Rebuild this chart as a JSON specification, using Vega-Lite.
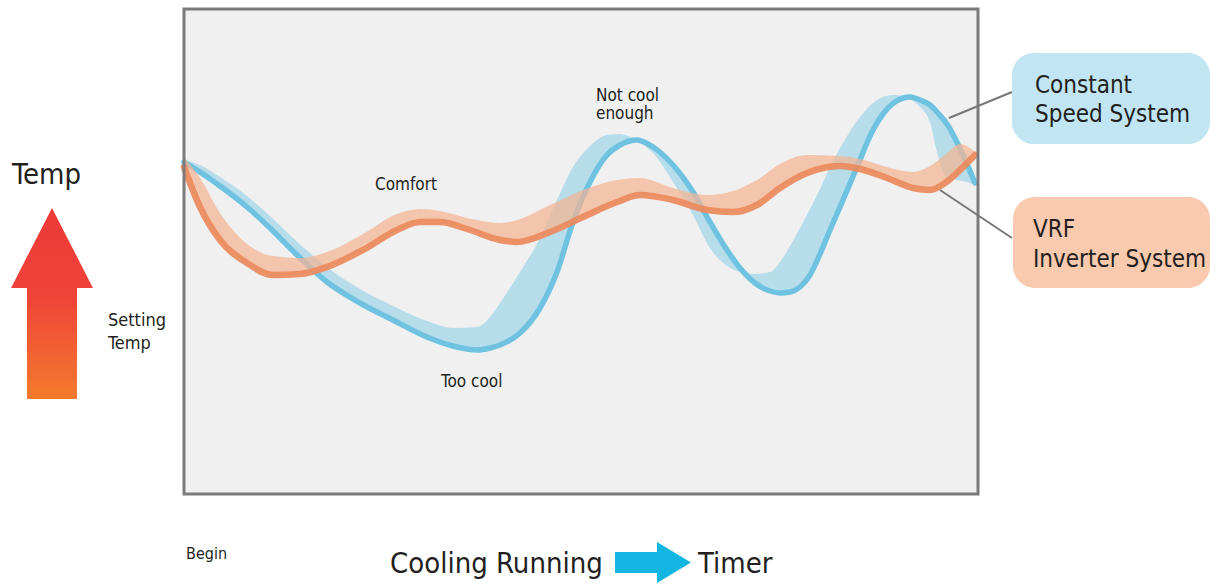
{
  "$schema": "https://vega.github.io/schema/vega-lite/v6.json",
  "width": 1210,
  "height": 584,
  "padding": 0,
  "autosize": {"type": "none"},
  "background": "#ffffff",
  "config": {"view": {"stroke": null}, "font": "DejaVu Sans Condensed, Roboto, sans-serif"},
  "datasets": {
    "box": [{"x": 184, "x2": 978, "y": 9, "y2": 494}],
    "blue": [
      {"x": 184, "yd": 162, "yl": 160},
      {"x": 200, "yd": 172, "yl": 165},
      {"x": 220, "yd": 186, "yl": 177},
      {"x": 247, "yd": 207, "yl": 196},
      {"x": 270, "yd": 228, "yl": 216},
      {"x": 293, "yd": 251, "yl": 238},
      {"x": 327, "yd": 282, "yl": 267},
      {"x": 360, "yd": 303, "yl": 289},
      {"x": 393, "yd": 320, "yl": 306},
      {"x": 427, "yd": 337, "yl": 321},
      {"x": 453, "yd": 346, "yl": 328},
      {"x": 477, "yd": 350, "yl": 327},
      {"x": 490, "yd": 348, "yl": 317},
      {"x": 500, "yd": 345, "yl": 303},
      {"x": 520, "yd": 333, "yl": 272},
      {"x": 540, "yd": 308, "yl": 238},
      {"x": 557, "yd": 272, "yl": 200},
      {"x": 573, "yd": 222, "yl": 167},
      {"x": 590, "yd": 182, "yl": 146},
      {"x": 607, "yd": 155, "yl": 135},
      {"x": 620, "yd": 145, "yl": 134},
      {"x": 637, "yd": 140, "yl": 141},
      {"x": 653, "yd": 147, "yl": 153},
      {"x": 673, "yd": 165, "yl": 182},
      {"x": 693, "yd": 192, "yl": 215},
      {"x": 710, "yd": 222, "yl": 248},
      {"x": 727, "yd": 250, "yl": 266},
      {"x": 740, "yd": 268, "yl": 272},
      {"x": 755, "yd": 283, "yl": 274},
      {"x": 770, "yd": 291, "yl": 272},
      {"x": 780, "yd": 293, "yl": 262},
      {"x": 790, "yd": 292, "yl": 246},
      {"x": 800, "yd": 287, "yl": 228},
      {"x": 810, "yd": 275, "yl": 209},
      {"x": 820, "yd": 254, "yl": 189},
      {"x": 830, "yd": 230, "yl": 167},
      {"x": 843, "yd": 200, "yl": 143},
      {"x": 857, "yd": 167, "yl": 121},
      {"x": 873, "yd": 130, "yl": 103},
      {"x": 883, "yd": 114, "yl": 97},
      {"x": 895, "yd": 102, "yl": 95},
      {"x": 910, "yd": 97, "yl": 99},
      {"x": 920, "yd": 100, "yl": 107},
      {"x": 930, "yd": 105, "yl": 122},
      {"x": 937, "yd": 112, "yl": 152},
      {"x": 947, "yd": 124, "yl": 178},
      {"x": 963, "yd": 155, "yl": 181},
      {"x": 975, "yd": 183, "yl": 185}
    ],
    "orange": [
      {"x": 184, "yd": 167, "yl": 157},
      {"x": 200, "yd": 207, "yl": 178},
      {"x": 220, "yd": 240, "yl": 213},
      {"x": 247, "yd": 263, "yl": 244},
      {"x": 273, "yd": 275, "yl": 256},
      {"x": 300, "yd": 274, "yl": 258},
      {"x": 327, "yd": 267, "yl": 252},
      {"x": 363, "yd": 250, "yl": 234},
      {"x": 397, "yd": 230, "yl": 214},
      {"x": 420, "yd": 222, "yl": 209},
      {"x": 440, "yd": 222, "yl": 211},
      {"x": 467, "yd": 229, "yl": 218},
      {"x": 500, "yd": 240, "yl": 223},
      {"x": 517, "yd": 242, "yl": 220},
      {"x": 550, "yd": 232, "yl": 205},
      {"x": 583, "yd": 217, "yl": 190},
      {"x": 617, "yd": 202, "yl": 180},
      {"x": 640, "yd": 195, "yl": 178},
      {"x": 673, "yd": 200, "yl": 188},
      {"x": 707, "yd": 210, "yl": 195},
      {"x": 733, "yd": 212, "yl": 191},
      {"x": 757, "yd": 205, "yl": 180},
      {"x": 780, "yd": 188, "yl": 164},
      {"x": 807, "yd": 173, "yl": 155},
      {"x": 840, "yd": 166, "yl": 156},
      {"x": 860, "yd": 169, "yl": 159},
      {"x": 887, "yd": 178, "yl": 167},
      {"x": 913, "yd": 188, "yl": 172},
      {"x": 930, "yd": 190, "yl": 166},
      {"x": 945, "yd": 183, "yl": 155},
      {"x": 960, "yd": 170, "yl": 144},
      {"x": 975, "yd": 155, "yl": 152}
    ],
    "redArrow": [
      {"x": 11, "y": 288, "y2": 288},
      {"x": 27, "y": 256.8, "y2": 288},
      {"x": 27.01, "y": 256.8, "y2": 399},
      {"x": 52, "y": 208, "y2": 399},
      {"x": 76.99, "y": 256.8, "y2": 399},
      {"x": 77, "y": 256.8, "y2": 288},
      {"x": 93, "y": 288, "y2": 288}
    ],
    "blueArrow": [
      {"x": 615, "y": 552, "y2": 573},
      {"x": 656.99, "y": 552, "y2": 573},
      {"x": 657, "y": 542, "y2": 583},
      {"x": 691, "y": 562.5, "y2": 562.5}
    ],
    "connectors": [
      {"x": 949, "y": 118, "x2": 1012, "y2": 92},
      {"x": 940, "y": 190, "x2": 1012, "y2": 238}
    ],
    "blueBox": [{"x": 1012, "x2": 1210, "y": 53, "y2": 144}],
    "orangeBox": [{"x": 1013, "x2": 1210, "y": 197, "y2": 288}],
    "tBig": [{"x": 12, "y": 184, "t": "Temp"}],
    "tSet": [{"x": 108, "y": 326, "t": "Setting"}, {"x": 108, "y": 349, "t": "Temp"}],
    "tNotes": [
      {"x": 375, "y": 190, "t": "Comfort"},
      {"x": 596, "y": 101, "t": "Not cool"},
      {"x": 596, "y": 119, "t": "enough"},
      {"x": 441, "y": 387, "t": "Too cool"}
    ],
    "tBegin": [{"x": 186, "y": 559, "t": "Begin"}],
    "tAxis": [{"x": 390, "y": 573, "t": "Cooling Running"}, {"x": 698, "y": 573, "t": "Timer"}],
    "tLegend": [
      {"x": 1035, "y": 93, "t": "Constant"},
      {"x": 1035, "y": 122, "t": "Speed System"},
      {"x": 1033, "y": 237, "t": "VRF"},
      {"x": 1033, "y": 267, "t": "Inverter System"}
    ]
  },
  "layer": [
    {
      "data": {"name": "box"},
      "mark": {"type": "rect", "fill": "#f0f0f0"},
      "encoding": {
        "x": {"field": "x", "type": "quantitative", "scale": {"domain": [0, 1210], "nice": false, "zero": false}, "axis": null},
        "x2": {"field": "x2"},
        "y": {"field": "y", "type": "quantitative", "scale": {"domain": [0, 584], "reverse": true, "nice": false, "zero": false}, "axis": null},
        "y2": {"field": "y2"}
      }
    },
    {
      "data": {"name": "blue"},
      "mark": {"type": "area", "color": "#a9d8ea", "opacity": 0.8, "interpolate": "monotone"},
      "encoding": {
        "x": {"field": "x", "type": "quantitative", "scale": {"domain": [0, 1210], "nice": false, "zero": false}, "axis": null},
        "y": {"field": "yd", "type": "quantitative", "scale": {"domain": [0, 584], "reverse": true, "nice": false, "zero": false}, "axis": null},
        "y2": {"field": "yl"}
      }
    },
    {
      "data": {"name": "blue"},
      "mark": {"type": "line", "color": "#6fc3e1", "strokeWidth": 5.5, "interpolate": "monotone", "strokeCap": "round"},
      "encoding": {
        "x": {"field": "x", "type": "quantitative", "scale": {"domain": [0, 1210], "nice": false, "zero": false}, "axis": null},
        "y": {"field": "yd", "type": "quantitative", "scale": {"domain": [0, 584], "reverse": true, "nice": false, "zero": false}, "axis": null}
      }
    },
    {
      "data": {"name": "orange"},
      "mark": {"type": "area", "color": "#f4b493", "opacity": 0.72, "interpolate": "monotone"},
      "encoding": {
        "x": {"field": "x", "type": "quantitative", "scale": {"domain": [0, 1210], "nice": false, "zero": false}, "axis": null},
        "y": {"field": "yd", "type": "quantitative", "scale": {"domain": [0, 584], "reverse": true, "nice": false, "zero": false}, "axis": null},
        "y2": {"field": "yl"}
      }
    },
    {
      "data": {"name": "orange"},
      "mark": {"type": "line", "color": "#eb8a5c", "strokeWidth": 6.5, "opacity": 0.92, "interpolate": "monotone", "strokeCap": "round"},
      "encoding": {
        "x": {"field": "x", "type": "quantitative", "scale": {"domain": [0, 1210], "nice": false, "zero": false}, "axis": null},
        "y": {"field": "yd", "type": "quantitative", "scale": {"domain": [0, 584], "reverse": true, "nice": false, "zero": false}, "axis": null}
      }
    },
    {
      "data": {"name": "box"},
      "mark": {"type": "rect", "fill": null, "fillOpacity": 0, "stroke": "#7b7b7b", "strokeWidth": 3},
      "encoding": {
        "x": {"field": "x", "type": "quantitative", "scale": {"domain": [0, 1210], "nice": false, "zero": false}, "axis": null},
        "x2": {"field": "x2"},
        "y": {"field": "y", "type": "quantitative", "scale": {"domain": [0, 584], "reverse": true, "nice": false, "zero": false}, "axis": null},
        "y2": {"field": "y2"}
      }
    },
    {
      "data": {"name": "redArrow"},
      "mark": {
        "type": "area",
        "interpolate": "linear",
        "color": {"gradient": "linear", "x1": 0, "y1": 0, "x2": 0, "y2": 1,
          "stops": [{"offset": 0, "color": "#ee3a3a"}, {"offset": 0.45, "color": "#ef4238"}, {"offset": 1, "color": "#f47b2d"}]}
      },
      "encoding": {
        "x": {"field": "x", "type": "quantitative", "scale": {"domain": [0, 1210], "nice": false, "zero": false}, "axis": null},
        "y": {"field": "y", "type": "quantitative", "scale": {"domain": [0, 584], "reverse": true, "nice": false, "zero": false}, "axis": null},
        "y2": {"field": "y2"}
      }
    },
    {
      "data": {"name": "blueArrow"},
      "mark": {"type": "area", "interpolate": "linear", "color": "#13b6e1"},
      "encoding": {
        "x": {"field": "x", "type": "quantitative", "scale": {"domain": [0, 1210], "nice": false, "zero": false}, "axis": null},
        "y": {"field": "y", "type": "quantitative", "scale": {"domain": [0, 584], "reverse": true, "nice": false, "zero": false}, "axis": null},
        "y2": {"field": "y2"}
      }
    },
    {
      "data": {"name": "connectors"},
      "mark": {"type": "rule", "color": "#777777", "strokeWidth": 2},
      "encoding": {
        "x": {"field": "x", "type": "quantitative", "scale": {"domain": [0, 1210], "nice": false, "zero": false}, "axis": null},
        "x2": {"field": "x2"},
        "y": {"field": "y", "type": "quantitative", "scale": {"domain": [0, 584], "reverse": true, "nice": false, "zero": false}, "axis": null},
        "y2": {"field": "y2"}
      }
    },
    {
      "data": {"name": "blueBox"},
      "mark": {"type": "rect", "fill": "#c1e5f3", "cornerRadius": 22},
      "encoding": {
        "x": {"field": "x", "type": "quantitative", "scale": {"domain": [0, 1210], "nice": false, "zero": false}, "axis": null},
        "x2": {"field": "x2"},
        "y": {"field": "y", "type": "quantitative", "scale": {"domain": [0, 584], "reverse": true, "nice": false, "zero": false}, "axis": null},
        "y2": {"field": "y2"}
      }
    },
    {
      "data": {"name": "orangeBox"},
      "mark": {"type": "rect", "fill": "#f9caae", "cornerRadius": 22},
      "encoding": {
        "x": {"field": "x", "type": "quantitative", "scale": {"domain": [0, 1210], "nice": false, "zero": false}, "axis": null},
        "x2": {"field": "x2"},
        "y": {"field": "y", "type": "quantitative", "scale": {"domain": [0, 584], "reverse": true, "nice": false, "zero": false}, "axis": null},
        "y2": {"field": "y2"}
      }
    },
    {
      "data": {"name": "tBig"},
      "mark": {"type": "text", "align": "left", "baseline": "alphabetic", "fontSize": 29, "color": "#231f20"},
      "encoding": {
        "x": {"field": "x", "type": "quantitative", "scale": {"domain": [0, 1210], "nice": false, "zero": false}, "axis": null},
        "y": {"field": "y", "type": "quantitative", "scale": {"domain": [0, 584], "reverse": true, "nice": false, "zero": false}, "axis": null},
        "text": {"field": "t"}
      }
    },
    {
      "data": {"name": "tSet"},
      "mark": {"type": "text", "align": "left", "baseline": "alphabetic", "fontSize": 18, "color": "#231f20"},
      "encoding": {
        "x": {"field": "x", "type": "quantitative", "scale": {"domain": [0, 1210], "nice": false, "zero": false}, "axis": null},
        "y": {"field": "y", "type": "quantitative", "scale": {"domain": [0, 584], "reverse": true, "nice": false, "zero": false}, "axis": null},
        "text": {"field": "t"}
      }
    },
    {
      "data": {"name": "tNotes"},
      "mark": {"type": "text", "align": "left", "baseline": "alphabetic", "fontSize": 17, "color": "#231f20"},
      "encoding": {
        "x": {"field": "x", "type": "quantitative", "scale": {"domain": [0, 1210], "nice": false, "zero": false}, "axis": null},
        "y": {"field": "y", "type": "quantitative", "scale": {"domain": [0, 584], "reverse": true, "nice": false, "zero": false}, "axis": null},
        "text": {"field": "t"}
      }
    },
    {
      "data": {"name": "tBegin"},
      "mark": {"type": "text", "align": "left", "baseline": "alphabetic", "fontSize": 16, "color": "#231f20"},
      "encoding": {
        "x": {"field": "x", "type": "quantitative", "scale": {"domain": [0, 1210], "nice": false, "zero": false}, "axis": null},
        "y": {"field": "y", "type": "quantitative", "scale": {"domain": [0, 584], "reverse": true, "nice": false, "zero": false}, "axis": null},
        "text": {"field": "t"}
      }
    },
    {
      "data": {"name": "tAxis"},
      "mark": {"type": "text", "align": "left", "baseline": "alphabetic", "fontSize": 29, "color": "#231f20"},
      "encoding": {
        "x": {"field": "x", "type": "quantitative", "scale": {"domain": [0, 1210], "nice": false, "zero": false}, "axis": null},
        "y": {"field": "y", "type": "quantitative", "scale": {"domain": [0, 584], "reverse": true, "nice": false, "zero": false}, "axis": null},
        "text": {"field": "t"}
      }
    },
    {
      "data": {"name": "tLegend"},
      "mark": {"type": "text", "align": "left", "baseline": "alphabetic", "fontSize": 24, "color": "#231f20"},
      "encoding": {
        "x": {"field": "x", "type": "quantitative", "scale": {"domain": [0, 1210], "nice": false, "zero": false}, "axis": null},
        "y": {"field": "y", "type": "quantitative", "scale": {"domain": [0, 584], "reverse": true, "nice": false, "zero": false}, "axis": null},
        "text": {"field": "t"}
      }
    }
  ]
}
